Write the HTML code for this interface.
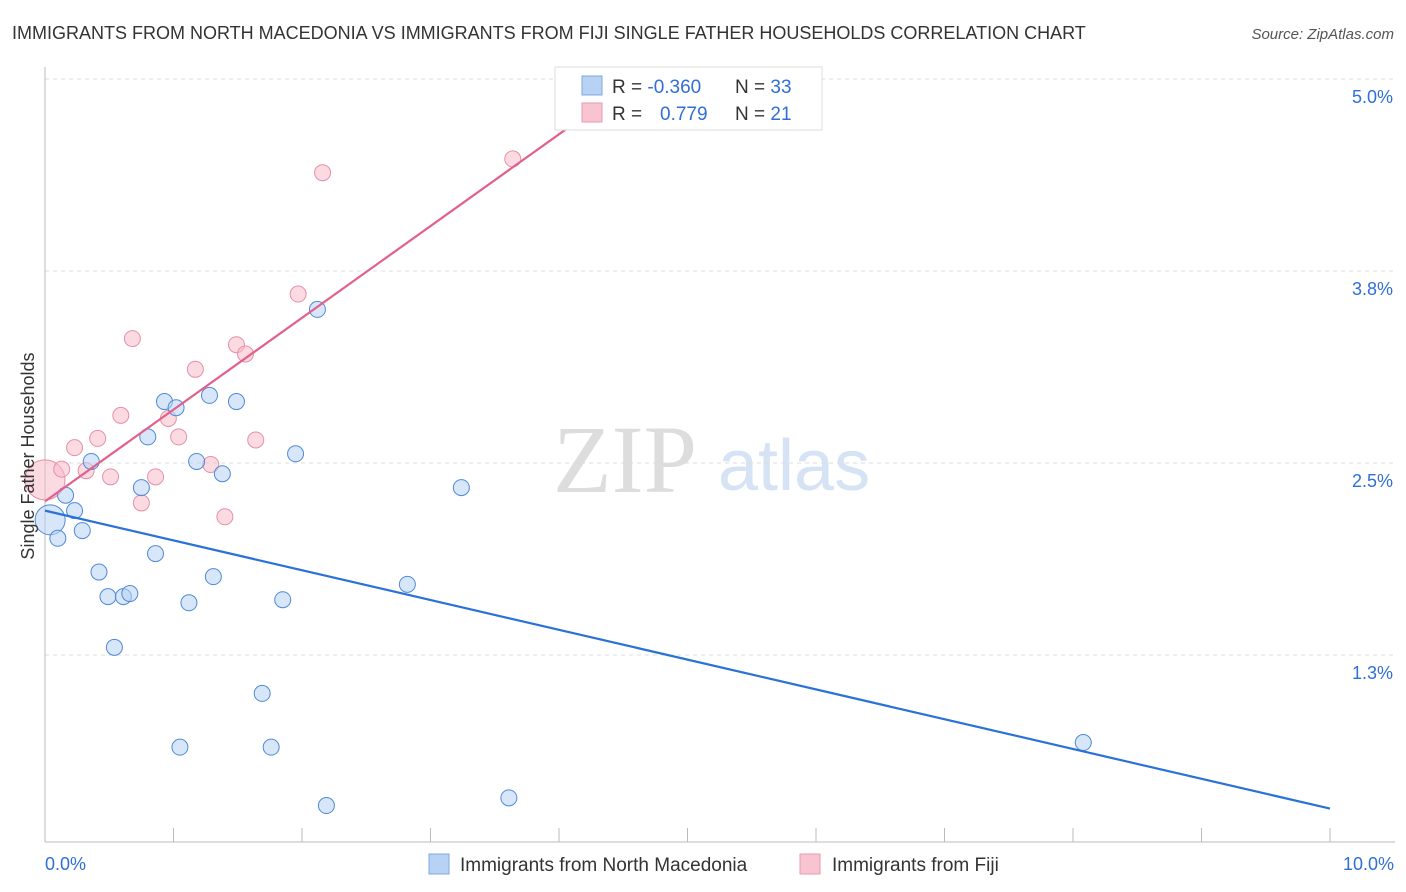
<!DOCTYPE html>
<html><head><meta charset="utf-8"><style>
body{margin:0;background:#fff;font-family:"Liberation Sans",sans-serif}
svg{display:block}
</style></head><body>
<svg width="1406" height="892" xmlns="http://www.w3.org/2000/svg">
<text x="12" y="39" font-size="18" fill="#333">IMMIGRANTS FROM NORTH MACEDONIA VS IMMIGRANTS FROM FIJI SINGLE FATHER HOUSEHOLDS CORRELATION CHART</text>
<text x="1394" y="39" font-size="15" fill="#555" font-style="italic" text-anchor="end">Source: ZipAtlas.com</text>
<g>
<text x="553" y="492" font-family="Liberation Serif,serif" font-size="96" fill="#ddd">ZIP</text>
<text x="718" y="490" font-size="72" fill="#d5e3f5">atlas</text>
</g>
<g id="grid"></g>
<g id="axes"></g>
<g id="marks"></g>
<text transform="translate(34,456) rotate(-90)" font-size="18" fill="#333" text-anchor="middle">Single Father Households</text>
<g>
<rect x="555" y="67" width="267" height="63" fill="#fff" stroke="#ddd"/>
<rect x="582" y="76" width="20" height="19" fill="#b8d2f4" stroke="#7fa8e0"/>
<rect x="582" y="103" width="20" height="19" fill="#f9c4d2" stroke="#e89ab0"/>
<text x="612" y="93" font-size="19" fill="#333">R = <tspan fill="#2f6fd6">-0.360</tspan></text>
<text x="735" y="93" font-size="19" fill="#333">N = <tspan fill="#2f6fd6">33</tspan></text>
<text x="612" y="120" font-size="19" fill="#333">R = <tspan fill="#2f6fd6" x="660">0.779</tspan></text>
<text x="735" y="120" font-size="19" fill="#333">N = <tspan fill="#2f6fd6">21</tspan></text>
</g>
<g>
<rect x="429" y="854" width="20" height="20" fill="#b8d2f4" stroke="#7fa8e0"/>
<text x="460" y="871" font-size="19" fill="#333">Immigrants from North Macedonia</text>
<rect x="800" y="854" width="20" height="20" fill="#f9c4d2" stroke="#e89ab0"/>
<text x="832" y="871" font-size="19" fill="#333">Immigrants from Fiji</text>
</g>
</svg>
<script>
const blueX=[0.04,0.10,0.16,0.23,0.29,0.36,0.42,0.49,0.61,0.66,0.54,0.75,0.80,0.86,0.93,1.02,1.12,1.18,1.28,1.31,1.38,1.49,1.69,1.05,1.76,1.85,1.95,2.12,2.19,2.82,3.24,3.61,8.08];
const blueY=[2.13,2.01,2.29,2.19,2.06,2.51,1.79,1.63,1.63,1.65,1.30,2.34,2.67,1.91,2.90,2.86,1.59,2.51,2.94,1.76,2.43,2.90,1.00,0.65,0.65,1.61,2.56,3.50,0.27,1.71,2.34,0.32,0.68];
const pinkX=[0.0,0.13,0.23,0.32,0.41,0.51,0.59,0.68,0.75,0.86,0.96,1.04,1.17,1.29,1.40,1.49,1.56,1.64,1.97,2.16,3.64];
const pinkY=[2.39,2.46,2.60,2.45,2.66,2.41,2.81,3.31,2.24,2.41,2.79,2.67,3.11,2.49,2.15,3.27,3.21,2.65,3.60,4.39,4.48];
const blueTrend=[[0,2.19],[10,0.25]];
const pinkTrend=[[0,2.25],[4.05,4.67]];
const yTicks=[5.0,3.75,2.5,1.25];
const yTickLabels=["5.0%","3.8%","2.5%","1.3%"];
const xTickLabels=["0.0%","10.0%"];
const NS="http://www.w3.org/2000/svg";
const sx=v=>45+v*128.5, sy=v=>79+(5-v)*153.6;
function mk(t,a,p){const e=document.createElementNS(NS,t);for(const k in a)e.setAttribute(k,a[k]);p.appendChild(e);return e;}
const grid=document.getElementById('grid'),axes=document.getElementById('axes'),marks=document.getElementById('marks');
yTicks.forEach((v,i)=>{
 const l=mk('line',{x1:45,x2:1395,y1:sy(v),y2:sy(v),stroke:'#ddd','stroke-dasharray':'4,4'},grid);
 
 
 const t=mk('text',{x:1393,y:sy(v)+24,'font-size':18,fill:'#2f6fd6','text-anchor':'end'},axes);
 t.textContent=yTickLabels[i];
 
 
});
const ax=mk('line',{x1:45,x2:45,y1:67,y2:842,stroke:'#bbb'},axes);


const bx=mk('line',{x1:45,x2:1395,y1:842,y2:842,stroke:'#bbb'},axes);


for(let i=0;i<=10;i++){
 const t=mk('line',{x1:sx(i),x2:sx(i),y1:828,y2:842,stroke:'#bbb'},axes);
 
 
}
[[0,'start',45],[10,'end',1394]].forEach((d,i)=>{
 const t=mk('text',{x:d[2],y:870,'font-size':18,fill:'#2f6fd6','text-anchor':d[1]},axes);
 t.textContent=xTickLabels[i];
 
 
});
function pts(X,Y,fill,stroke,name,bigIdx,bigR){
 X.forEach((x,i)=>{
  const c=mk('circle',{cx:sx(x),cy:sy(Y[i]),r:i===bigIdx?bigR:8,fill:fill,'fill-opacity':0.55,stroke:stroke,'stroke-width':1},marks);
  
  
 });
}
pts(pinkX,pinkY,'#f7bccb','#e590a8','point-fiji',0,20);
pts(blueX,blueY,'#b8d2f4','#4f8ad8','point-macedonia',0,15);
const bl=mk('line',{x1:sx(blueTrend[0][0]),y1:sy(blueTrend[0][1]),x2:sx(blueTrend[1][0]),y2:sy(blueTrend[1][1]),stroke:'#2a72d8','stroke-width':2.2},marks);


const pl=mk('line',{x1:sx(pinkTrend[0][0]),y1:sy(pinkTrend[0][1]),x2:sx(pinkTrend[1][0]),y2:sy(pinkTrend[1][1]),stroke:'#e2608a','stroke-width':2.2},marks);


</script>
</body></html>
